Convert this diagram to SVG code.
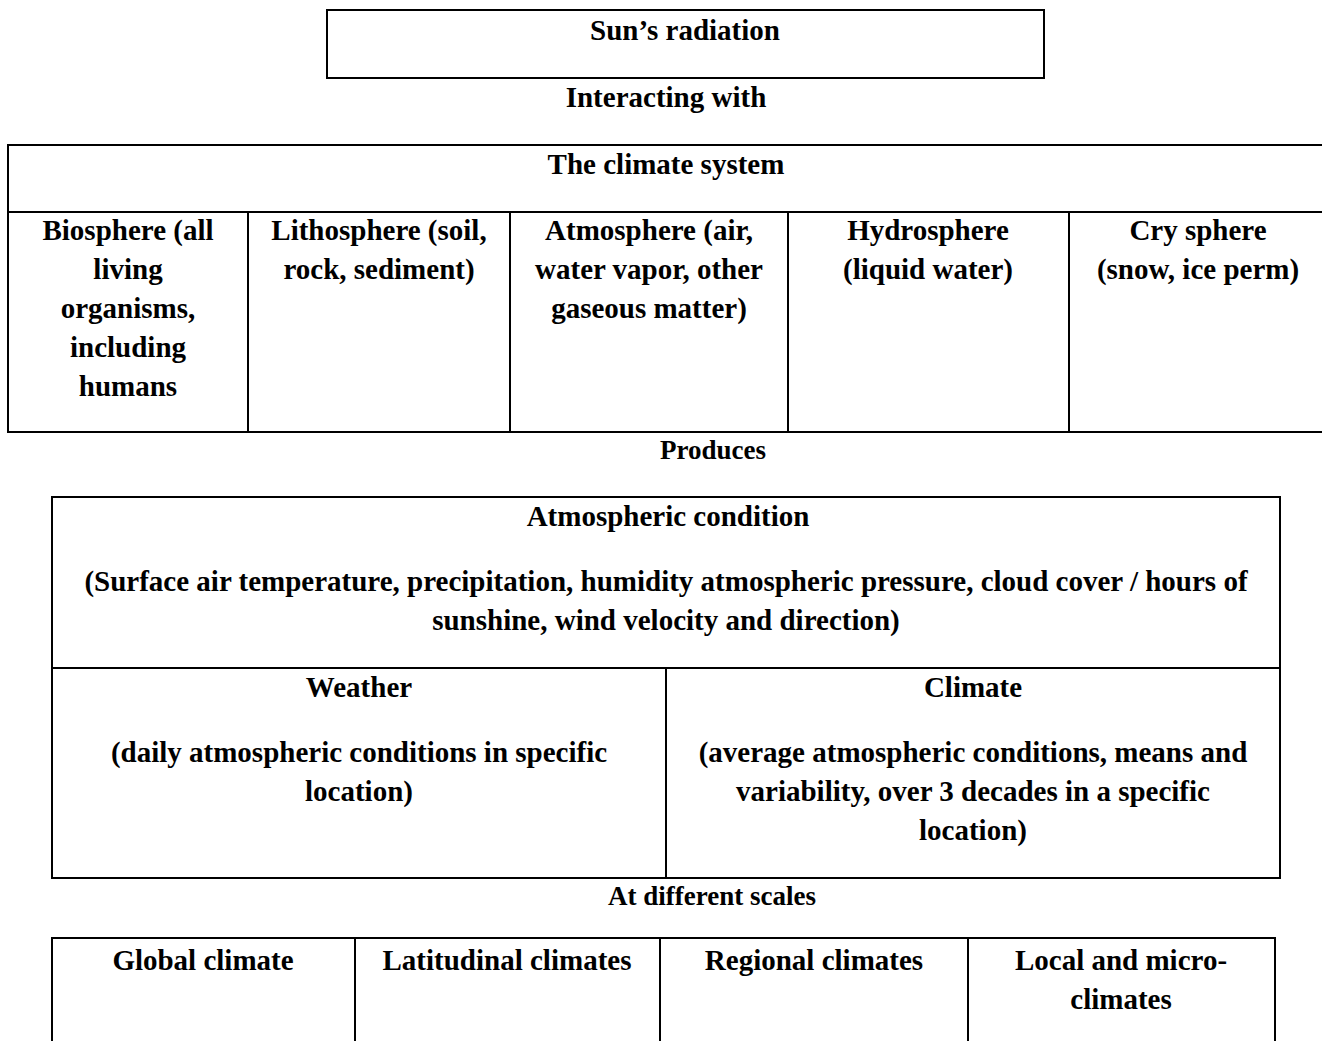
<svg xmlns="http://www.w3.org/2000/svg" width="1322" height="1041" viewBox="0 0 1322 1041">
<style>
text{font-family:"Liberation Serif","Times New Roman",serif;font-weight:bold;fill:#000;text-anchor:middle;font-size:29px}
.lbl{font-size:27px}
.box{fill:none;stroke:#000;stroke-width:2}
</style>
<rect width="1322" height="1041" fill="#fff"/>
<g id="sun"><rect class="box" x="327" y="10" width="717" height="68"/><text x="685" y="40">Sun’s radiation</text></g>
<g id="connectors">
<text x="666" y="107">Interacting with</text>
<text class="lbl" x="713" y="459">Produces</text>
<text class="lbl" x="712" y="905">At different scales</text>
</g>
<g id="climate-system">
<path class="box" d="M1324 145H8V432H1324M8 212H1324M248 212V432M510 212V432M788 212V432M1069 212V432"/>
<text x="666" y="174">The climate system</text>
</g>
<g id="biosphere"><text x="128" y="240">Biosphere (all</text><text x="128" y="279">living</text><text x="128" y="318">organisms,</text><text x="128" y="357">including</text><text x="128" y="396">humans</text></g>
<g id="lithosphere"><text x="379" y="240">Lithosphere (soil,</text><text x="379" y="279">rock, sediment)</text></g>
<g id="atmosphere"><text x="649" y="240">Atmosphere (air,</text><text x="649" y="279">water vapor, other</text><text x="649" y="318">gaseous matter)</text></g>
<g id="hydrosphere"><text x="928" y="240">Hydrosphere</text><text x="928" y="279">(liquid water)</text></g>
<g id="cryosphere"><text x="1198" y="240">Cry sphere</text><text x="1198" y="279">(snow, ice perm)</text></g>
<g id="atmospheric-condition">
<path class="box" d="M52 497H1280V878H52ZM52 668H1280M666 668V878"/>
<text x="668" y="526">Atmospheric condition</text>
<text x="666" y="591">(Surface air temperature, precipitation, humidity atmospheric pressure, cloud cover / hours of</text>
<text x="666" y="630">sunshine, wind velocity and direction)</text>
</g>
<g id="weather"><text x="359" y="697">Weather</text><text x="359" y="762">(daily atmospheric conditions in specific</text><text x="359" y="801">location)</text></g>
<g id="climate"><text x="973" y="697">Climate</text><text x="973" y="762">(average atmospheric conditions, means and</text><text x="973" y="801">variability, over 3 decades in a specific</text><text x="973" y="840">location)</text></g>
<g id="scales">
<path class="box" d="M52 1045V938H1275V1045M355 938V1045M660 938V1045M968 938V1045"/>
</g>
<g id="global"><text x="203" y="970">Global climate</text></g>
<g id="latitudinal"><text x="507" y="970">Latitudinal climates</text></g>
<g id="regional"><text x="814" y="970">Regional climates</text></g>
<g id="local"><text x="1121" y="970">Local and micro-</text><text x="1121" y="1009">climates</text></g>
</svg>
